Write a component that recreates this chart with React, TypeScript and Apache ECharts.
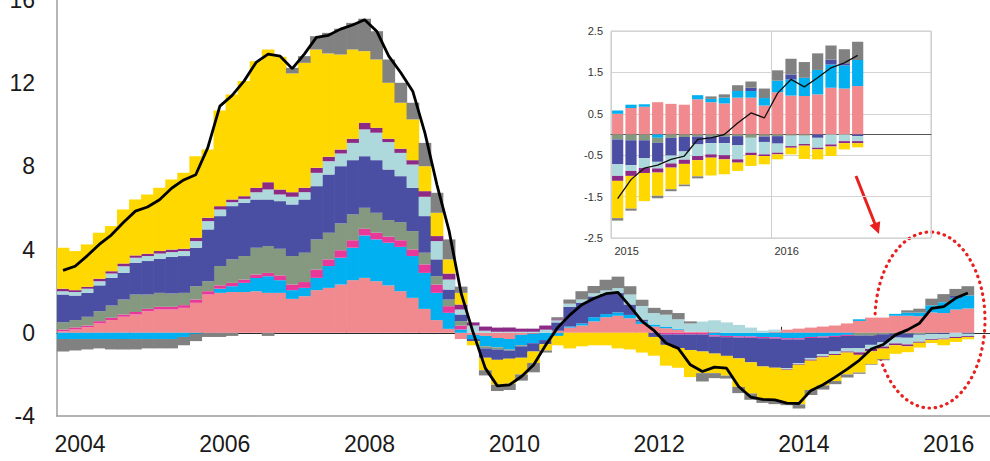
import React, { useEffect, useRef } from 'react';
import * as echarts from 'echarts';

// ---------- categories ----------
const years = [2004, 2005, 2006, 2007, 2008, 2009, 2010, 2011, 2012, 2013, 2014, 2015, 2016];
const bimonths = ['01', '03', '05', '07', '09', '11'];
const insetYears = [2015, 2016];
const insetMonths = ['01', '02', '03', '04', '05', '06', '07', '08', '09', '10', '11', '12'];

const yTicks = { min: -4, max: 16, step: 4 };
const insetTicks = { min: -2.5, max: 2.5, step: 1 };

// ---------- main chart components (bimonthly, Jan 2004 – Jul 2016) ----------
const pink = [0.08,0.16,0.26,0.45,0.61,0.77, 0.88,1.04,1.12,1.12,1.2,1.44, 1.84,1.92,1.96,1.96,2.0,1.92, 1.92,1.63,1.76,2.05,2.16,2.32, 2.53,2.64,2.48,2.28,2.0,1.68, 1.15,0.61,0.19,-0.3,-0.1,-0.15, -0.25,-0.3,-0.1,-0.05,0,0.1, 0.25,0.35,0.55,0.75,0.82,0.7, 0.43,0.3,0.22,0.15,0.05,0.04, 0.05,0,0,0,0,0.05, 0.15,0.2,0.25,0.3,0.35,0.45, 0.57,0.73,0.73,0.82,0.82,0.8, 0.98,0.95,1.12,1.17];
const cyan = [-0.3,-0.3,-0.3,-0.3,-0.3,-0.3, -0.3,-0.3,-0.3,-0.3,-0.2,-0.05, 0,0.2,0.28,0.44,0.64,0.8, 0.61,0.42,0.4,0.59,1.05,1.29, 1.56,2.04,2.01,2.05,2.13,2.01, 1.73,1.31,0.77,0.16,-0.2,-0.5, -0.45,-0.5,-0.5,-0.45,-0.35,-0.15, 0.05,0.1,0.2,0.15,0.16,0.16, 0.11,0.1,0.08,0.05,0,0, -0.12,-0.15,-0.17,-0.18,-0.2,-0.22, -0.26,-0.26,-0.2,-0.18,-0.15,-0.1, 0.08,0,0,0.09,0.15,0.17, 0.34,0.52,0.56,0.63];
const magenta = [0.08,0.1,0.09,0.11,0.11,0.11, 0.12,0.11,0.13,0.13,0.13,0.16, 0.16,0.16,0.16,0.16,0.16,0.16, 0.23,0.27,0.28,0.4,0.32,0.36, 0.36,0.32,0.32,0.29,0.32,0.32, 0.41,0.4,0.32,0.19,0,0, 0,0,0,0,0,0, 0,0,0,0,0,0, 0,0,-0.08,-0.08,-0.08,-0.08, -0.06,-0.06,-0.06,-0.06,-0.06,-0.06, -0.06,-0.06,-0.05,-0.05,-0.05,-0.05, 0,0,0,0,0,0, 0,0,0,0];
const greenGray = [0.35,0.35,0.42,0.48,0.59,0.72, 0.84,0.69,0.67,0.64,0.59,0.64, 0.48,0.93,1.13,1.13,1.29,1.29, 1.28,1.37,1.41,1.45,1.28,1.29, 1.24,1.01,0.96,0.8,0.87,0.88, 0.56,0.4,0.32,0.21,0,-0.1, -0.1,-0.05,-0.05,0,0,0, 0,0,0,0,0,0, 0,0,0,0,0,0, 0,0,0,0,0,0, 0,0,0,0,0,0, -0.13,-0.13,-0.07,-0.05,-0.05,-0.07, -0.04,-0.02,0,0];
const darkBlue = [1.33,1.18,1.15,1.24,1.33,1.28, 1.53,1.61,1.64,1.76,1.77,1.85, 2.49,2.4,2.56,2.56,2.32,2.24, 2.29,2.48,2.56,2.56,2.8,2.75, 2.61,2.48,2.53,2.43,2.21,2.08, 1.76,0.81,0.48,0.32,-0.1,-0.45, -0.5,-0.4,-0.55,-0.4,-0.2,0.4, 0.95,1.0,1.0,0.98,0.93,0.5, 0.1,-0.2,-0.5,-0.65,-0.75,-0.82, -0.82,-0.9,-1.0,-1.18,-1.36,-1.4, -1.38,-1.14,-0.96,-0.8,-0.7,-0.6, -0.6,-0.45,-0.39,-0.18,-0.19,-0.03, -0.03,-0.04,0.09,-0.04];
const lightBlue = [0.16,0.17,0.2,0.2,0.21,0.32, 0.24,0.24,0.25,0.23,0.24,0.32, 0.4,0.32,0.19,0.19,0.35,0.48, 0.32,0.37,0.35,0.64,0.64,0.61, 0.83,1.29,1.32,1.32,1.12,1.12, 0.93,0.88,0.48,0.24,0.35,0.1, 0.05,0.05,0.05,0.05,0.15,0.1, 0.15,0.15,0.15,0.16,0.24,0.48, 0.65,0.55,0.57,0.45,0.4,0.5, 0.55,0.5,0.38,0.25,0.1,0.1, -0.05,-0.05,-0.08,-0.1,-0.12,-0.15, -0.21,-0.2,-0.2,-0.28,-0.32,-0.33, -0.24,-0.22,-0.2,-0.12];
const purple = [0.12,0.09,0.09,0.12,0.11,0.13, 0.11,0.11,0.12,0.12,0.11,0.16, 0.16,0.16,0.13,0.13,0.21,0.35, 0.24,0.22,0.21,0.24,0.21,0.19, 0.2,0.32,0.24,0.16,0.2,0.21, 0.27,0.24,0.29,0.24,0.15,0.2, 0.2,0.2,0.15,0.15,0.2,0.05, 0,0,0,0,0,0, 0,0,0,0,0,0, 0,0,0,0,0,0, -0.03,-0.03,-0.05,-0.05,-0.05,-0.05, -0.12,-0.11,-0.1,-0.09,-0.09,-0.05, -0.04,-0.04,-0.05,-0.05];
const yellow = [1.97,1.88,2.04,2.21,2.17,2.6, 2.69,2.85,3.04,3.37,3.65,3.92, 3.28,4.6,5.05,5.53,6.09,6.38, 6.38,5.71,6.01,5.69,4.97,4.57, 4.29,3.44,3.28,2.69,2.21,1.96, 1.2,1.12,0.68,0.56,-0.2,-0.6, -1.2,-1.2,-0.8,-0.55,-0.3,-0.45, -0.75,-0.65,-0.6,-0.6,-0.75,-0.8, -0.95,-0.9,-1.0,-0.95,-1.3,-1.04, -0.94,-0.95,-1.37,-1.5,-1.6,-1.6, -1.6,-1.9,-1.41,-1.35,-1.25,-1.05, -0.85,-0.62,-0.51,-0.41,-0.28,-0.23, -0.14,-0.28,-0.19,-0.1];
const gray = [-0.6,-0.55,-0.5,-0.45,-0.5,-0.5, -0.5,-0.45,-0.45,-0.45,-0.4,-0.35, -0.2,-0.2,-0.15,0,0,-0.15, 0,0.27,0.32,0.64,0.99,1.24, 1.28,1.56,1.36,1.12,0.96,0.8, 1.12,0.96,0.96,0.3,0,-0.25, -0.3,-0.3,-0.3,-0.45,-0.1,0.1, 0.2,0.4,0.35,0.51,0.55,0.4, 0.3,0.25,0.23,0.3,0.1,-0.4, -0.24,-0.14,-0.3,-0.3,-0.15,-0.15, -0.1,-0.2,-0.24,-0.2,-0.15,-0.15, -0.06,-0.03,-0.05,0,0.11,0.19, 0.32,0.39,0.34,0.44];
const total = [3.0,3.2,3.7,4.25,4.7,5.3, 5.85,6.05,6.4,6.95,7.35,7.6, 8.9,10.9,11.4,12.1,13.0,13.4, 13.3,12.7,13.4,14.2,14.3,14.6, 14.8,15.05,14.5,13.3,12.5,11.6, 9.6,7.1,4.9,1.9,0.0,-1.7, -2.55,-2.5,-2.1,-1.55,-0.6,0.25, 0.85,1.35,1.65,1.88,1.94,1.27, 0.55,0.1,-0.5,-0.75,-1.54,-1.86, -1.65,-1.7,-2.58,-3.09,-3.2,-3.22, -3.38,-3.4,-2.77,-2.5,-2.13,-1.75, -1.32,-0.78,-0.56,-0.1,0.14,0.46, 1.17,1.26,1.67,1.91];

// ---------- inset components (monthly, Jan 2015 – Jul 2016) ----------
const insetPink = [0.5,0.64,0.67,0.78,0.74,0.72,0.85,0.78,0.75,0.89,0.89,0.7,1.02,0.94,0.93,0.97,1.13,1.11,1.17];
const insetCyan = [0.08,0.08,0.06,-0.08,0,0,0.1,0.08,0.14,0.16,0.16,0.18,0.28,0.39,0.44,0.59,0.56,0.56,0.63];
const insetGreenGray = [-0.12,-0.14,-0.14,-0.12,-0.08,-0.06,-0.05,-0.05,-0.05,-0.04,-0.08,-0.05,-0.04,-0.03,-0.03,0,0,0,0];
const insetDarkBlue = [-0.6,-0.6,-0.43,-0.46,-0.43,-0.35,-0.19,-0.16,-0.16,-0.22,0.08,-0.13,-0.18,0.12,0,-0.08,0.12,0.05,-0.04];
const insetLightBlue = [-0.28,-0.14,-0.24,-0.16,-0.19,-0.2,-0.28,-0.27,-0.29,-0.34,-0.36,-0.3,-0.22,-0.25,-0.2,-0.24,-0.24,-0.16,-0.12];
const insetPurple = [-0.12,-0.12,-0.12,-0.1,-0.1,-0.1,-0.1,-0.08,-0.1,-0.08,-0.06,-0.04,-0.04,-0.04,-0.04,-0.04,-0.05,-0.05,-0.05];
const insetYellow = [-0.9,-0.79,-0.68,-0.56,-0.52,-0.5,-0.39,-0.43,-0.36,-0.2,-0.26,-0.2,-0.12,-0.16,-0.32,-0.24,-0.23,-0.15,-0.1];
const insetGray = [-0.06,-0.05,0,-0.06,-0.05,-0.04,-0.05,0.06,0.08,0.14,0.15,0.23,0.25,0.38,0.38,0.4,0.34,0.34,0.44];
const insetTotal = [-1.55,-1.09,-0.81,-0.74,-0.6,-0.52,-0.12,-0.08,0,0.28,0.52,0.4,1.0,1.33,1.15,1.37,1.61,1.73,1.91];

// ---------- styles ----------
const C = {
  pink: '#F08A8F',
  cyan: '#00B0F0',
  magenta: '#E8399A',
  greenGray: '#84997F',
  darkBlue: '#4B4FA3',
  lightBlue: '#ADD8DC',
  purple: '#8C2A86',
  yellow: '#FFD800',
  gray: '#818181',
};
const FONT = '"Liberation Sans", Arial, Helvetica, sans-serif';
const RED = '#E8201F';

export default function App() {
  const ref = useRef<HTMLDivElement>(null);

  useEffect(() => {
    if (!ref.current) return;
    const chart = echarts.init(ref.current, undefined, { renderer: 'svg' });

    const periods: string[] = [];
    years.forEach((y) => bimonths.forEach((m) => periods.push(`${y}-${m}`)));
    const insetPeriods: string[] = [];
    insetYears.forEach((y) => insetMonths.forEach((m) => insetPeriods.push(`${y}-${m}`)));

    const mainComps = [
      { name: 'pink', data: pink, color: C.pink },
      { name: 'cyan', data: cyan, color: C.cyan },
      { name: 'magenta', data: magenta, color: C.magenta },
      { name: 'greenGray', data: greenGray, color: C.greenGray },
      { name: 'darkBlue', data: darkBlue, color: C.darkBlue },
      { name: 'lightBlue', data: lightBlue, color: C.lightBlue },
      { name: 'purple', data: purple, color: C.purple },
      { name: 'yellow', data: yellow, color: C.yellow },
      { name: 'gray', data: gray, color: C.gray },
    ];
    const insetComps = [
      { name: 'i-pink', data: insetPink, color: C.pink },
      { name: 'i-cyan', data: insetCyan, color: C.cyan },
      { name: 'i-greenGray', data: insetGreenGray, color: C.greenGray },
      { name: 'i-darkBlue', data: insetDarkBlue, color: C.darkBlue },
      { name: 'i-lightBlue', data: insetLightBlue, color: C.lightBlue },
      { name: 'i-purple', data: insetPurple, color: C.purple },
      { name: 'i-yellow', data: insetYellow, color: C.yellow },
      { name: 'i-gray', data: insetGray, color: C.gray },
    ];

    const series: any[] = [];
    mainComps.forEach((c) =>
      series.push({
        type: 'bar',
        name: c.name,
        stack: 'main',
        xAxisIndex: 0,
        yAxisIndex: 0,
        data: c.data,
        barWidth: 12.7,
        itemStyle: { color: c.color },
        silent: true,
      })
    );
    series.push({
      type: 'line',
      name: 'total',
      xAxisIndex: 0,
      yAxisIndex: 0,
      data: total,
      symbol: 'none',
      lineStyle: { color: '#000', width: 2.8 },
      z: 5,
      silent: true,
    });
    insetComps.forEach((c) =>
      series.push({
        type: 'bar',
        name: c.name,
        stack: 'inset',
        xAxisIndex: 2,
        yAxisIndex: 1,
        data: c.data,
        barCategoryGap: '16%',
        itemStyle: { color: c.color },
        silent: true,
      })
    );
    series.push({
      type: 'line',
      name: 'insetTotal',
      xAxisIndex: 2,
      yAxisIndex: 1,
      data: insetTotal,
      symbol: 'none',
      lineStyle: { color: '#111', width: 1.3 },
      z: 5,
      silent: true,
    });

    chart.setOption({
      animation: false,
      backgroundColor: '#fff',
      textStyle: { fontFamily: FONT },
      grid: [
        { left: 57, top: 0, width: 941, height: 416, containLabel: false, outerBoundsMode: 'none' },
        {
          left: 611, top: 31, width: 320, height: 207, show: true, borderColor: '#c9c9c9', borderWidth: 1,
          containLabel: false, outerBoundsMode: 'none',
        },
      ],
      xAxis: [
        {
          type: 'category',
          gridIndex: 0,
          data: periods,
          boundaryGap: true,
          axisLine: { onZero: true, lineStyle: { color: '#2a2a2a', width: 1 } },
          axisTick: { show: true, inside: true, length: 6, interval: (i: number) => i % 6 === 0, lineStyle: { color: '#2a2a2a' } },
          axisLabel: { show: false },
          splitLine: { show: false },
        },
        {
          type: 'category',
          gridIndex: 0,
          data: periods,
          position: 'bottom',
          boundaryGap: true,
          axisLine: { onZero: false, lineStyle: { color: '#9c9c9c', width: 1.5 } },
          axisTick: { show: false },
          axisLabel: {
            interval: (i: number) => i % 12 === 0,
            formatter: (v: string) => v.slice(0, 4),
            fontSize: 23,
            color: '#1a1a1a',
            margin: 16,
            padding: [0, 0, 0, 34],
            fontFamily: FONT,
          },
          splitLine: { show: false },
        },
        {
          type: 'category',
          gridIndex: 1,
          data: insetPeriods,
          boundaryGap: true,
          axisLine: { onZero: true, lineStyle: { color: '#555', width: 1 } },
          axisTick: { show: false },
          axisLabel: { show: false },
          splitLine: { show: true, interval: (i: number) => i % 12 === 0, lineStyle: { color: '#cfcfcf', width: 1 } },
        },
        {
          type: 'category',
          gridIndex: 1,
          data: insetPeriods,
          position: 'bottom',
          boundaryGap: true,
          axisLine: { show: false, onZero: false },
          axisTick: { show: false },
          axisLabel: {
            interval: (i: number) => i % 12 === 0,
            formatter: (v: string) => v.slice(0, 4),
            fontSize: 11,
            color: '#333',
            margin: 7,
            padding: [0, 0, 0, 18],
            fontFamily: FONT,
          },
          splitLine: { show: false },
        },
      ],
      yAxis: [
        {
          type: 'value',
          gridIndex: 0,
          min: yTicks.min,
          max: yTicks.max,
          interval: yTicks.step,
          axisLine: { show: true, lineStyle: { color: '#9c9c9c', width: 1.5 } },
          axisTick: { show: false },
          splitLine: { show: false },
          axisLabel: { fontSize: 23, color: '#1a1a1a', margin: 22, fontFamily: FONT },
        },
        {
          type: 'value',
          gridIndex: 1,
          min: insetTicks.min,
          max: insetTicks.max,
          interval: insetTicks.step,
          axisLine: { show: false },
          axisTick: { show: false },
          splitLine: { show: true, lineStyle: { color: '#d4d4d4', width: 1 } },
          axisLabel: { fontSize: 11, color: '#333', margin: 8, fontFamily: FONT },
        },
      ],
      series,
      graphic: [
        {
          type: 'line',
          shape: { x1: 856, y1: 176, x2: 875, y2: 224 },
          style: { stroke: RED, lineWidth: 3 },
          silent: true,
        },
        {
          type: 'polygon',
          shape: { points: [[879, 234], [880.2, 221.2], [869.6, 225.3]] },
          style: { fill: RED },
          silent: true,
        },
        {
          type: 'ellipse',
          shape: { cx: 930, cy: 320, rx: 55, ry: 88 },
          style: { fill: 'rgba(0,0,0,0)', stroke: RED, lineWidth: 3.2, lineDash: [0.5, 5.6], lineCap: 'round' },
          silent: true,
        },
      ],
    });

    return () => chart.dispose();
  }, []);

  return <div ref={ref} style={{ position: 'absolute', left: 0, top: 0, width: 990, height: 461 }} />;
}
